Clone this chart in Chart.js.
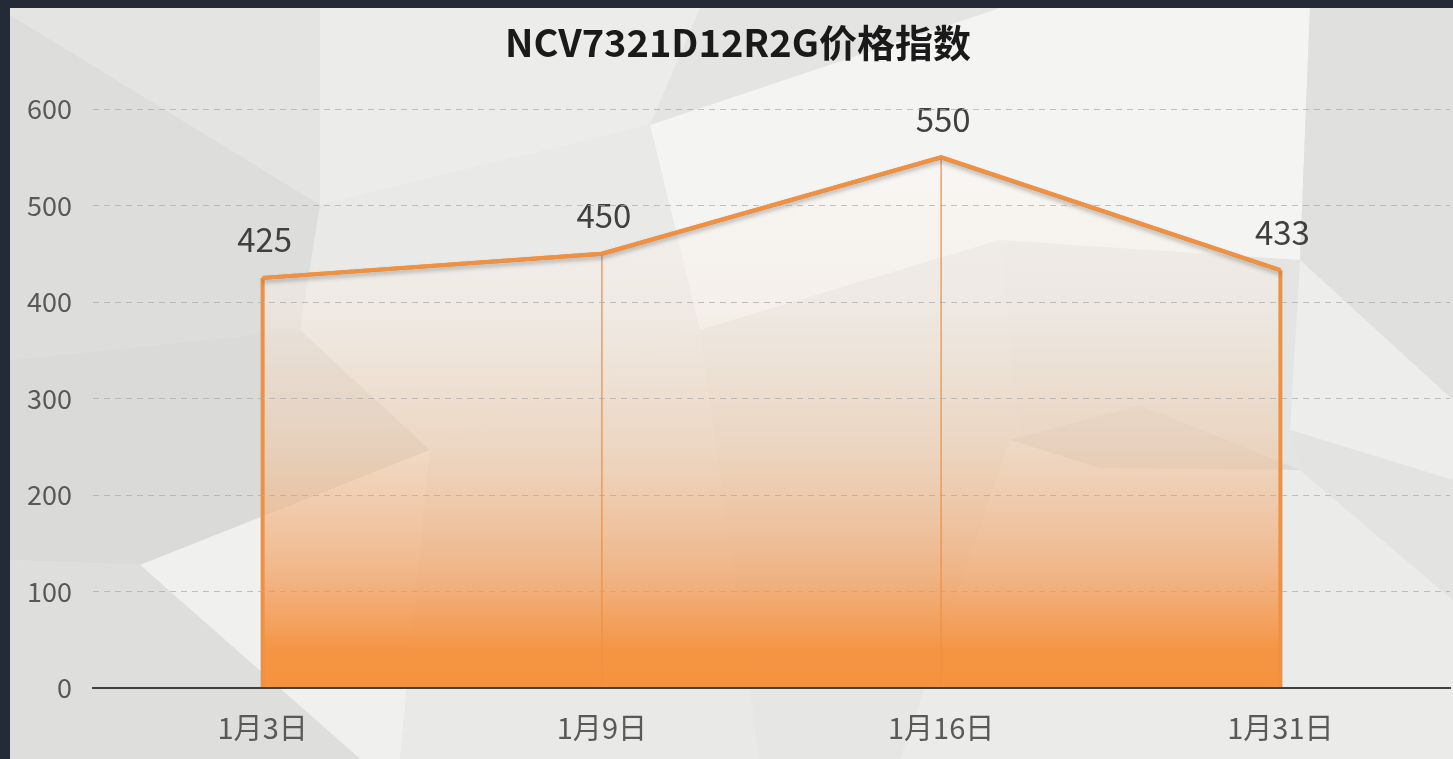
<!DOCTYPE html>
<html><head><meta charset="utf-8">
<script src="https://cdn.jsdelivr.net/npm/chart.js@4.4.0/dist/chart.umd.min.js"></script>
<style>
html,body{margin:0;padding:0;background:#252b36;overflow:hidden}
#wrap{position:absolute;left:0;top:0;width:1453px;height:759px}
</style>
</head><body>
<div id="wrap"><canvas id="c" width="1453" height="759"></canvas></div>
<script>
const chartTitle = 'NCV7321D12R2G价格指数';
const categories = ['1月3日', '1月9日', '1月16日', '1月31日'];
const priceIndex = [425, 450, 550, 433];
const yTicks = [0, 100, 200, 300, 400, 500, 600];

const ORANGE = '#ef9142';
const FONT = '"Noto Sans CJK SC", "Noto Sans", sans-serif';

const bgPlugin = {
  id: 'bgPoly',
  beforeDraw(chart) {
    const ctx = chart.ctx, W = chart.width, H = chart.height;
    ctx.save();
    ctx.fillStyle = '#252b36';
    ctx.fillRect(0, 0, W, H);
    ctx.beginPath(); ctx.rect(10, 8, W - 10, H - 8); ctx.clip();
    ctx.fillStyle = '#e4e4e2';
    ctx.fillRect(10, 8, W - 10, H - 8);
    const polys = [
      ['#dddddb', [[10,15],[320,205],[300,330],[10,360]]],
      ['#dadad8', [[10,360],[300,330],[430,450],[140,565],[10,560]]],
      ['#ececea', [[320,8],[700,8],[650,125],[320,205]]],
      ['#e9e9e7', [[320,205],[650,125],[700,330],[430,450],[300,330]]],
      ['#f4f4f3', [[650,125],[1000,8],[1310,8],[1300,260],[1000,240],[700,330]]],
      ['#e0e0de', [[1310,8],[1453,8],[1453,400],[1300,260]]],
      ['#ededec', [[1300,260],[1453,400],[1453,480],[1290,430]]],
      ['#f0f0ef', [[140,565],[430,450],[400,759],[360,759]]],
      ['#dededc', [[10,560],[140,565],[360,759],[10,759]]],
      ['#e9e9e8', [[430,450],[700,330],[760,759],[400,759]]],
      ['#e6e6e4', [[700,330],[1000,240],[1020,440],[900,759],[760,759]]],
      ['#dddbd9', [[1010,440],[1140,405],[1300,470],[1100,468]]],
      ['#ebebea', [[900,759],[1010,440],[1100,468],[1300,470],[1453,600],[1453,759]]],
      ['#e3e3e1', [[1290,430],[1453,480],[1453,600],[1300,470]]]
    ];
    polys.forEach(([c, pts]) => {
      ctx.fillStyle = c;
      ctx.beginPath();
      pts.forEach((p, i) => i ? ctx.lineTo(p[0], p[1]) : ctx.moveTo(p[0], p[1]));
      ctx.closePath(); ctx.fill();
    });
    ctx.restore();
  }
};

const titlePlugin = {
  id: 'centerTitle',
  afterDraw(chart) {
    const ctx = chart.ctx;
    ctx.save();
    ctx.fillStyle = '#1a1a1a';
    ctx.font = 'bold 38px ' + FONT;
    ctx.textAlign = 'center';
    ctx.textBaseline = 'middle';
    ctx.fillText(chartTitle, 738, 43);
    ctx.restore();
  }
};

const dropAndLabels = {
  id: 'dropAndLabels',
  afterDatasetsDraw(chart) {
    const ctx = chart.ctx;
    const meta = chart.getDatasetMeta(0);
    const yBase = chart.scales.y.getPixelForValue(0);
    const n = meta.data.length;
    ctx.save();
    meta.data.forEach((pt, i) => {
      const edge = (i === 0 || i === n - 1);
      ctx.strokeStyle = edge ? ORANGE : 'rgba(239,145,66,0.85)';
      ctx.lineWidth = edge ? 4 : 1.5;
      ctx.beginPath();
      ctx.moveTo(pt.x, pt.y);
      ctx.lineTo(pt.x, yBase);
      ctx.stroke();
    });
    ctx.save();
    ctx.shadowColor = 'rgba(60,60,60,0.35)';
    ctx.shadowBlur = 4;
    ctx.shadowOffsetY = 3;
    ctx.strokeStyle = ORANGE;
    ctx.lineWidth = 4;
    ctx.lineJoin = 'round';
    ctx.beginPath();
    meta.data.forEach((pt, i) => i ? ctx.lineTo(pt.x, pt.y) : ctx.moveTo(pt.x, pt.y));
    ctx.stroke();
    ctx.restore();
    ctx.fillStyle = '#404040';
    ctx.font = '33px ' + FONT;
    ctx.textAlign = 'center';
    ctx.textBaseline = 'middle';
    meta.data.forEach((pt, i) => {
      ctx.fillText(String(chart.data.datasets[0].data[i]), pt.x + 2, pt.y - 38);
    });
    ctx.restore();
  }
};

new Chart(document.getElementById('c'), {
  type: 'line',
  data: {
    labels: categories,
    datasets: [{
      data: priceIndex,
      borderColor: ORANGE,
      borderWidth: 4,
      pointRadius: 0,
      tension: 0,
      fill: 'origin',
      backgroundColor(ctx) {
        const ca = ctx.chart.chartArea;
        if (!ca) return 'rgba(245,146,62,0.5)';
        const g = ctx.chart.ctx.createLinearGradient(0, ca.top + 40, 0, ca.bottom);
        g.addColorStop(0, 'rgba(252,248,245,0.55)');
        g.addColorStop(0.3, 'rgba(245,235,225,0.5)');
        g.addColorStop(0.55, 'rgba(240,200,165,0.55)');
        g.addColorStop(0.78, 'rgba(242,165,105,0.75)');
        g.addColorStop(0.93, 'rgba(245,146,62,0.97)');
        g.addColorStop(1, 'rgba(245,146,62,1)');
        return g;
      }
    }]
  },
  options: {
    responsive: false,
    animation: false,
    layout: { padding: { left: 0, right: 3, top: 109, bottom: 0 } },
    plugins: {
      legend: { display: false },
      tooltip: { enabled: false },
      title: { display: false }
    },
    scales: {
      x: {
        offset: true,
        grid: { display: false, drawTicks: false },
        border: { display: true, color: '#404040', width: 2, z: 2 },
        ticks: { color: '#595959', font: { family: FONT, size: 29 }, padding: 23, maxRotation: 0 },
        afterFit(scale) { scale.height = 71; }
      },
      y: {
        min: 0, max: 600,
        afterBuildTicks(scale) { scale.ticks = yTicks.map(v => ({ value: v })); },
        grid: { color: 'rgba(170,170,170,0.7)', lineWidth: 1, drawTicks: false, z: 1 },
        border: { display: false, dash: [6, 5] },
        ticks: { color: '#595959', font: { family: FONT, size: 27 }, padding: 21 },
        afterFit(scale) { scale.width = 93; }
      }
    }
  },
  plugins: [bgPlugin, dropAndLabels, titlePlugin]
});
</script>
</body></html>
